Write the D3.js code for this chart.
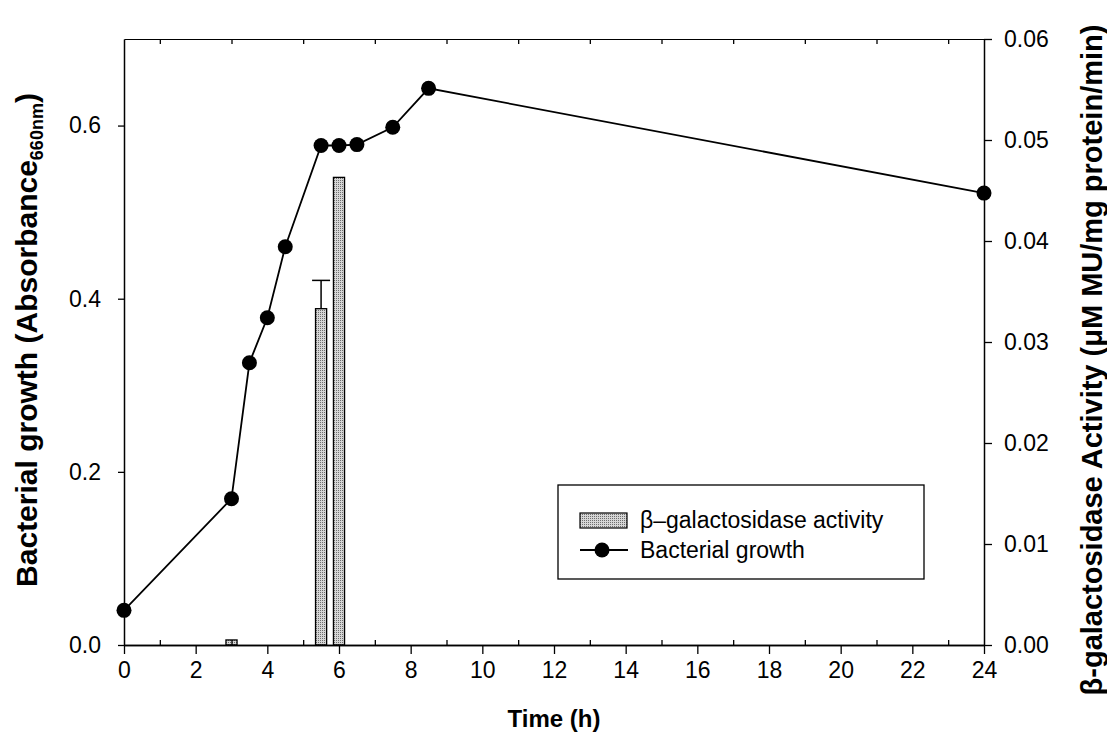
<!DOCTYPE html>
<html>
<head>
<meta charset="utf-8">
<script src="https://cdn.jsdelivr.net/npm/d3@7"></script>
<style>
  html, body { margin: 0; padding: 0; background: #fff; }
  svg { display: block; font-family: "Liberation Sans", Arial, Helvetica, sans-serif; }
</style>
</head>
<body>
<svg id="chart" width="1107" height="745"></svg>
<script>
// ---- data ----
const growthTime = [0, 3, 3.5, 4, 4.5, 5.5, 6, 6.5, 7.5, 8.5, 24];
const growthAbs = [0.040, 0.169, 0.326, 0.378, 0.460, 0.577, 0.577, 0.578, 0.598, 0.643, 0.522];
const activityTime = [3, 5.5, 6];
const activityValue = [0.0005, 0.0333, 0.0463];
const activityErr = [0, 0.0028, 0];
const xTicks = [0, 2, 4, 6, 8, 10, 12, 14, 16, 18, 20, 22, 24];
const xMinorTicks = [1, 3, 5, 7, 9, 11, 13, 15, 17, 19, 21, 23];
const leftTicks = [0, 0.2, 0.4, 0.6];
const rightTicks = [0, 0.01, 0.02, 0.03, 0.04, 0.05, 0.06];
const legendLabels = ["\u03B2\u2013galactosidase activity", "Bacterial growth"];

// ---- layout ----
const L = 124, R = 984, T = 39, B = 645;
const svg = d3.select("#chart");

const x = d3.scaleLinear().domain([0, 24]).range([L, R]);
const yL = d3.scaleLinear().domain([0, 0.7]).range([B, T]);
const yR = d3.scaleLinear().domain([0, 0.06]).range([B, T]);

// stipple pattern for bars
const defs = svg.append("defs");
const pat = defs.append("pattern").attr("id", "stipple")
  .attr("width", 2).attr("height", 2).attr("patternUnits", "userSpaceOnUse");
pat.append("rect").attr("width", 2).attr("height", 2).attr("fill", "#d6d6d6");
pat.append("rect").attr("width", 1).attr("height", 1).attr("fill", "#6e6e6e");

// ---- bars (right axis) ----
const barW = x(0.31) - x(0);
const bars = activityTime.map((t, i) => ({ t, v: activityValue[i], e: activityErr[i] }));
svg.append("g").selectAll("rect").data(bars).join("rect")
  .attr("x", d => x(d.t) - barW / 2)
  .attr("y", d => yR(d.v))
  .attr("width", barW)
  .attr("height", d => yR(0) - yR(d.v))
  .attr("fill", "url(#stipple)")
  .attr("stroke", "#000").attr("stroke-width", 1.3);

// error bars (upward only)
const eb = svg.append("g").attr("stroke", "#000").attr("stroke-width", 1.5);
bars.filter(d => d.e > 0).forEach(d => {
  eb.append("line").attr("x1", x(d.t)).attr("x2", x(d.t))
    .attr("y1", yR(d.v)).attr("y2", yR(d.v + d.e));
  eb.append("line").attr("x1", x(d.t) - 9).attr("x2", x(d.t) + 9)
    .attr("y1", yR(d.v + d.e)).attr("y2", yR(d.v + d.e));
});

// ---- line (left axis) ----
const pts = growthTime.map((t, i) => ({ t, v: growthAbs[i] }));
svg.append("path").datum(pts)
  .attr("fill", "none").attr("stroke", "#000").attr("stroke-width", 1.8)
  .attr("d", d3.line().x(d => x(d.t)).y(d => yL(d.v)));
svg.append("g").selectAll("circle").data(pts).join("circle")
  .attr("cx", d => x(d.t)).attr("cy", d => yL(d.v)).attr("r", 7.5)
  .attr("fill", "#000");

// ---- axes ----
function styleAxis(g) {
  g.selectAll(".domain").attr("stroke", "#000").attr("stroke-width", 1.5);
  g.selectAll(".tick line").attr("stroke", "#000").attr("stroke-width", 1.3);
  g.selectAll("text").attr("fill", "#000").style("font-family", "'Liberation Sans', Arial, sans-serif");
}

// bottom major
const gxB = svg.append("g").attr("transform", `translate(0,${B})`)
  .call(d3.axisBottom(x).tickValues(xTicks).tickFormat(d3.format("d")).tickSize(9).tickPadding(8).tickSizeOuter(0));
gxB.selectAll("text").style("font-size", "23px");
styleAxis(gxB);
// bottom minor (inward)
const gxBm = svg.append("g").attr("transform", `translate(0,${B})`)
  .call(d3.axisBottom(x).tickValues(xMinorTicks).tickFormat("").tickSize(-5).tickSizeOuter(0));
styleAxis(gxBm);
// top minor (inward)
const gxT = svg.append("g").attr("transform", `translate(0,${T})`)
  .call(d3.axisTop(x).tickValues(xMinorTicks).tickFormat("").tickSize(-5).tickSizeOuter(0));
styleAxis(gxT);
gxT.selectAll(".domain").attr("stroke-width", 1.2);

// left
const gyL = svg.append("g").attr("transform", `translate(${L},0)`)
  .call(d3.axisLeft(yL).tickValues(leftTicks).tickFormat(d3.format(".1f")).tickSize(6).tickPadding(17).tickSizeOuter(0));
gyL.selectAll("text").style("font-size", "23px");
styleAxis(gyL);

// right
const gyR = svg.append("g").attr("transform", `translate(${R},0)`)
  .call(d3.axisRight(yR).tickValues(rightTicks).tickFormat(d3.format(".2f")).tickSize(8).tickPadding(12).tickSizeOuter(0));
gyR.selectAll("text").style("font-size", "23px");
styleAxis(gyR);

// ---- titles ----
svg.append("text")
  .attr("x", 554).attr("y", 727)
  .attr("text-anchor", "middle")
  .style("font-size", "24px").style("font-weight", "bold")
  .text("Time (h)");

const yl = svg.append("text")
  .attr("transform", "translate(37,340) rotate(-90)")
  .attr("text-anchor", "middle")
  .style("font-size", "30px").style("font-weight", "bold");
yl.append("tspan").text("Bacterial growth (Absorbance");
yl.append("tspan").attr("dy", 6).style("font-size", "18px").text("660nm");
yl.append("tspan").attr("dy", -6).text(")");

svg.append("text")
  .attr("transform", "translate(1102,360) rotate(-90)")
  .attr("text-anchor", "middle")
  .style("font-size", "29px").style("font-weight", "bold")
  .text("\u03B2-galactosidase Activity (\u03BCM MU/mg protein/min)");

// ---- legend ----
const lg = svg.append("g");
lg.append("rect").attr("x", 558).attr("y", 485).attr("width", 366).attr("height", 94)
  .attr("fill", "#fff").attr("stroke", "#000").attr("stroke-width", 1.3);
lg.append("rect").attr("x", 580).attr("y", 513).attr("width", 47).attr("height", 15)
  .attr("fill", "url(#stipple)").attr("stroke", "#000").attr("stroke-width", 1.2);
lg.append("line").attr("x1", 580).attr("x2", 628).attr("y1", 550).attr("y2", 550)
  .attr("stroke", "#000").attr("stroke-width", 1.8);
lg.append("circle").attr("cx", 602).attr("cy", 550).attr("r", 7.5).attr("fill", "#000");
lg.selectAll("text.lab").data(legendLabels).join("text").attr("class", "lab")
  .attr("x", 640).attr("y", (d, i) => 528 + i * 30)
  .style("font-size", "23px")
  .text(d => d);
</script>
</body>
</html>
